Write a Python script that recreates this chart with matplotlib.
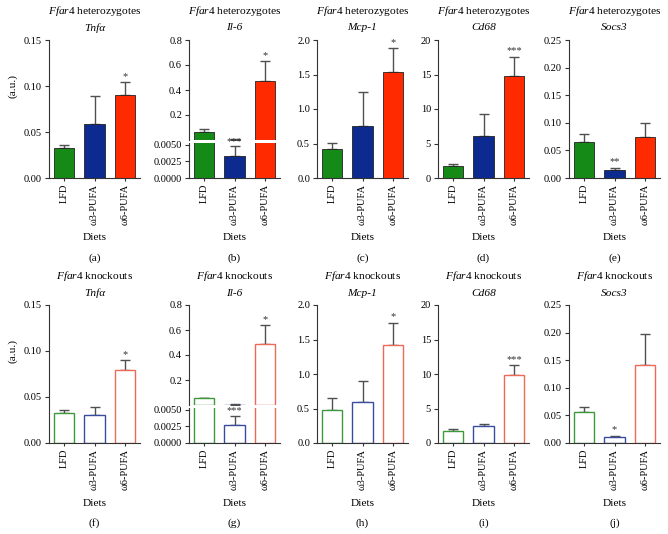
import matplotlib
matplotlib.use("Agg")
import matplotlib.pyplot as plt
from matplotlib.ticker import FormatStrFormatter

plt.rcParams['font.family'] = ['Liberation Serif', 'DejaVu Serif']
plt.rcParams['mathtext.fontset'] = 'custom'
plt.rcParams['mathtext.rm'] = 'Liberation Serif'
plt.rcParams['mathtext.it'] = 'Liberation Serif:italic'

categories = ["LFD", "ω3-PUFA", "ω6-PUFA"]
genes = ["Tnfα", "Il-6", "Mcp-1", "Cd68", "Socs3"]
panel_letters = [["(a)", "(b)", "(c)", "(d)", "(e)"], ["(f)", "(g)", "(h)", "(i)", "(j)"]]
groups = ["heterozygotes", "knockouts"]

# heterozygotes: means and upper SEM
het_tnfa = [0.0326, 0.059, 0.0906]
het_tnfa_err = [0.0034, 0.0306, 0.0134]
het_il6 = [0.067, 0.0034, 0.47]
het_il6_err = [0.021, 0.0014, 0.16]
het_mcp1 = [0.42, 0.75, 1.53]
het_mcp1_err = [0.085, 0.50, 0.35]
het_cd68 = [1.75, 6.07, 14.85]
het_cd68_err = [0.25, 3.23, 2.75]
het_socs3 = [0.0645, 0.015, 0.075]
het_socs3_err = [0.016, 0.004, 0.025]

# knockouts
ko_tnfa = [0.033, 0.0309, 0.0792]
ko_tnfa_err = [0.0033, 0.008, 0.0105]
ko_il6 = [0.055, 0.0028, 0.49]
ko_il6_err = [0.003, 0.0013, 0.15]
ko_mcp1 = [0.485, 0.60, 1.417]
ko_mcp1_err = [0.165, 0.293, 0.323]
ko_cd68 = [1.8, 2.43, 9.8]
ko_cd68_err = [0.29, 0.39, 1.5]
ko_socs3 = [0.0569, 0.0115, 0.142]
ko_socs3_err = [0.0079, 0.0018, 0.055]

het_stars = [["", "", "*"], ["", "***", "*"], ["", "", "*"], ["", "", "***"], ["", "**", ""]]
ko_stars = [["", "", "*"], ["", "***", "*"], ["", "", "*"], ["", "", "***"], ["", "*", ""]]

yticks_list = [[0, 0.05, 0.10, 0.15], None, [0, 0.5, 1.0, 1.5, 2.0], [0, 5, 10, 15, 20],
               [0, 0.05, 0.10, 0.15, 0.20, 0.25]]
ylims = [(0, 0.15), None, (0, 2.0), (0, 20), (0, 0.25)]
fmts = ['%.2f', None, '%.1f', '%d', '%.2f']
il6_upper_ticks = [0.2, 0.4, 0.6, 0.8]
il6_lower_ticks = [0, 0.0025, 0.005]

fill_colors = ["#168a16", "#0c2a90", "#ff2a00"]
ko_edge = ["#3c9a3c", "#3a4c9e", "#ee6a58"]
err_col = "#505050"
axis_col = "#333333"

W, H = 668, 534
fig = plt.figure(figsize=(W / 100, H / 100), dpi=100)

col_left = [49, 189, 317, 438, 569]
ax_w = 91
row_bottom = [178, 443]
ax_h = 138
fs = 7.5
tfs = 8.2

x = [0, 1, 2]


def style(ax, bottom=True):
    for s in ['top', 'right']:
        ax.spines[s].set_visible(False)
    ax.spines['left'].set_color(axis_col)
    ax.spines['left'].set_linewidth(0.8)
    if bottom:
        ax.spines['bottom'].set_color(axis_col)
        ax.spines['bottom'].set_linewidth(0.8)
    else:
        ax.spines['bottom'].set_visible(False)
    ax.tick_params(axis='y', labelsize=fs, length=3, width=0.8, color=axis_col, pad=2)
    ax.tick_params(axis='x', labelsize=fs, length=2, width=0.8, color=axis_col, pad=2)
    ax.set_xlim(-0.49, 2.49)


def bars(ax, vals, errs, filled):
    for i in range(3):
        if filled:
            ax.bar(x[i], vals[i], width=0.66, color=fill_colors[i], edgecolor="#222222",
                   linewidth=0.6, zorder=2)
        else:
            ax.bar(x[i], vals[i], width=0.66, color="white", edgecolor=ko_edge[i],
                   linewidth=1.0, zorder=2)
        ax.errorbar(x[i], vals[i], yerr=[[0], [errs[i]]], color=err_col, capsize=3.5,
                    elinewidth=1.0, capthick=1.0, zorder=1)


def set_xticks(ax):
    ax.set_xticks(x)
    ax.set_xticklabels(categories, rotation=90, fontsize=fs)


data = [
    [(het_tnfa, het_tnfa_err), (het_il6, het_il6_err), (het_mcp1, het_mcp1_err),
     (het_cd68, het_cd68_err), (het_socs3, het_socs3_err)],
    [(ko_tnfa, ko_tnfa_err), (ko_il6, ko_il6_err), (ko_mcp1, ko_mcp1_err),
     (ko_cd68, ko_cd68_err), (ko_socs3, ko_socs3_err)],
]
stars_all = [het_stars, ko_stars]

for r in range(2):
    filled = (r == 0)
    bpx = row_bottom[r]
    top_px = bpx - ax_h
    for c in range(5):
        vals, errs = data[r][c]
        stars = stars_all[r][c]
        lpx = col_left[c]
        if c != 1:
            ax = fig.add_axes([lpx / W, (H - bpx) / H, ax_w / W, ax_h / H])
            style(ax)
            bars(ax, vals, errs, filled)
            ax.set_ylim(*ylims[c])
            ax.set_yticks(yticks_list[c])
            ax.yaxis.set_major_formatter(FormatStrFormatter(fmts[c]))
            set_xticks(ax)
            span = ylims[c][1] - ylims[c][0]
            for i in range(3):
                if stars[i]:
                    ax.text(x[i], vals[i] + errs[i] + span * 0.01, stars[i], ha='center',
                            va='bottom', fontsize=fs, color="#333333")
        else:
            up_bot = bpx - 38
            axu = fig.add_axes([lpx / W, (H - up_bot) / H, ax_w / W, (up_bot - top_px) / H])
            axl = fig.add_axes([lpx / W, (H - bpx) / H, ax_w / W, 35 / H])
            style(axu, bottom=False)
            style(axl)
            bars(axu, vals, errs, filled)
            bars(axl, vals, errs, filled)
            axu.set_ylim(0, 0.8)
            axu.set_yticks(il6_upper_ticks)
            axu.yaxis.set_major_formatter(FormatStrFormatter('%.1f'))
            axu.set_xticks([])
            axl.set_ylim(0, 0.0053)
            axl.set_yticks(il6_lower_ticks)
            axl.yaxis.set_major_formatter(FormatStrFormatter('%.4f'))
            set_xticks(axl)
            for i in range(3):
                if stars[i]:
                    top = vals[i] + errs[i]
                    if top > 0.006:
                        axu.text(x[i], top + 0.008, stars[i], ha='center', va='bottom',
                                 fontsize=fs, color="#333333")
                    else:
                        axl.text(x[i], top + 0.00005, stars[i], ha='center', va='bottom',
                                 fontsize=fs, color="#333333", clip_on=False)
        cx = (lpx + ax_w / 2) / W
        fig.text(cx, (H - (top_px - 29)) / H, r"$\it{Ffar4}$ " + groups[r], ha='center',
                 va='center', fontsize=tfs)
        fig.text(cx, (H - (top_px - 12)) / H, genes[c], ha='center', va='center',
                 fontsize=tfs, style='italic')
        fig.text(cx, (H - (bpx + 60)) / H, "Diets", ha='center', va='center', fontsize=tfs)
        fig.text(cx, (H - (bpx + 80)) / H, panel_letters[r][c], ha='center', va='center',
                 fontsize=tfs)
        if c == 0:
            fig.text(13 / W, (H - (bpx - 92)) / H, "(a.u.)", rotation=90, ha='center',
                     va='center', fontsize=tfs)

fig.savefig("out.png", dpi=100)
